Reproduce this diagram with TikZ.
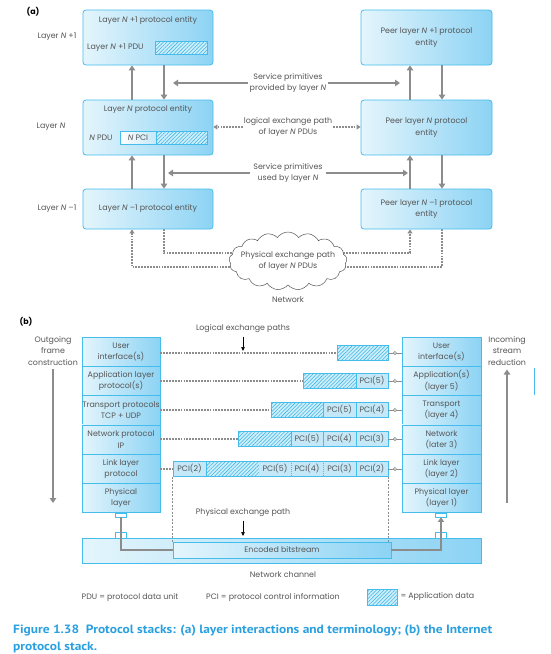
\documentclass[tikz,border=0pt]{standalone}
\usepackage{fontspec}
\setmainfont{Poppins}
\newfontfamily\capfont[FakeStretch=1.12]{PT Sans}
\usetikzlibrary{arrows.meta,shapes.symbols,patterns.meta,backgrounds,calc}
\definecolor{lcyan}{HTML}{E4F5FC}
\definecolor{dcyan}{HTML}{8CD3F4}
\definecolor{bcyan}{HTML}{45BDEC}
\definecolor{pcifill}{HTML}{C4E8F8}
\definecolor{hatchbg}{HTML}{CDEEFB}
\definecolor{hatchcol}{HTML}{3CB4E6}
\definecolor{arrgray}{HTML}{8C8C8C}
\definecolor{txtgray}{HTML}{555555}
\definecolor{capblue}{HTML}{2AA0E0}
\newcommand{\tf}{\fontsize{7.9}{11.3}\selectfont}
\begin{document}
\begin{tikzpicture}[x=1pt,y=-1pt,font=\tf,text=txtgray,
  ent/.style={draw=bcyan,line width=0.8pt,rounded corners=3pt,left color=lcyan,right color=dcyan,align=center,inner sep=0pt},
  cell/.style={draw=bcyan,line width=0.7pt,left color=lcyan,right color=dcyan,align=center,inner sep=0pt,minimum width=78,minimum height=29.3},
  hatch/.style={draw=bcyan,line width=0.6pt,preaction={fill=hatchbg},pattern={Lines[angle=45,distance=2.6pt,line width=0.55pt]},pattern color=hatchcol,inner sep=0pt,minimum height=13},
  pci/.style={draw=bcyan,line width=0.6pt,fill=pcifill,inner sep=0pt,minimum height=15},
  pcin/.style={fill=pcifill,inner sep=0pt,minimum height=15},
  lbl/.style={align=center,inner sep=3pt},
  garr/.style={draw=arrgray,line width=2.4pt,-{Triangle[length=5pt,width=6.5pt]}},
  gline/.style={draw=arrgray,line width=2pt},
  darr/.style={draw=arrgray,line width=2pt,dash pattern=on 1.8pt off 1.1pt,-{Triangle[length=4pt,width=5pt]}},
  dline/.style={draw=arrgray,line width=2pt,dash pattern=on 1.8pt off 1.1pt},
  tarr/.style={draw=black,line width=0.6pt,-{Triangle[length=4pt,width=3.5pt]}},
  tdash/.style={draw=arrgray,line width=0.5pt,dash pattern=on 2pt off 1.5pt},
  sapl/.style={draw=arrgray,line width=1pt},
  sapc/.style={circle,draw=arrgray,fill=white,line width=0.6pt,inner sep=0pt,minimum size=3.2pt},
  tab/.style={draw=bcyan,fill=white,line width=0.6pt,inner sep=0pt,minimum width=11}]
\begin{scope}[on background layer]
\fill[white] (0,0) rectangle (551,654);
\end{scope}
\useasboundingbox (0,0) rectangle (551,654);

% ---------------- (a) ----------------
\node[font=\tf\bfseries,text=black] (la) at (33,12) {(a)};
\node (lN1) at (57,37) {Layer \textit{N} +1};
\node (lN) at (51,127) {Layer \textit{N}};
\node (lNm) at (57,209) {Layer \textit{N} –1};

\node[ent,minimum width=130,minimum height=55] (nA) at (148,37.5) {};
\node (tA) at (148,21) {Layer \textit{N} +1 protocol entity};
\node[anchor=west,inner sep=0pt] (tApdu) at (87,48) {Layer \textit{N} +1 PDU};
\node[hatch,minimum width=52] (hA) at (181,47.5) {};

\node[ent,minimum width=130,minimum height=55] (nB) at (148,127.5) {};
\node (tB) at (148,110) {Layer \textit{N} protocol entity};
\node (tBpdu) at (101,137.5) {\textit{N} PDU};
\node[draw=bcyan,line width=0.6pt,left color=white,right color=pcifill,inner sep=0pt,minimum width=36,minimum height=13] (pB) at (138,137.5) {\textit{N} PCI};
\node[hatch,minimum width=51] (hB) at (181.5,137.5) {};

\node[ent,minimum width=130,minimum height=40] (nC) at (148,209) {Layer \textit{N} –1 protocol entity};

\node[ent,minimum width=131,minimum height=55] (pA) at (426.5,37.5) {Peer layer \textit{N} +1 protocol\\entity};
\node[ent,minimum width=131,minimum height=55] (pBn) at (426.5,127.5) {Peer layer \textit{N} protocol\\entity};
\node[ent,minimum width=131,minimum height=40] (pC) at (426.5,209) {Peer layer \textit{N} –1 protocol\\entity};

% vertical service arrows
\draw[garr] ([xshift=-16pt]nB.north) -- ([xshift=-16pt]nA.south);
\draw[garr] ([xshift=16pt]nA.south) -- ([xshift=16pt]nB.north);
\draw[garr] ([xshift=-16pt]nC.north) -- ([xshift=-16pt]nB.south);
\draw[garr] ([xshift=16pt]nB.south) -- ([xshift=16pt]nC.north);
\draw[garr] ([xshift=-16.5pt]pBn.north) -- ([xshift=-16.5pt]pA.south);
\draw[garr] ([xshift=15.5pt]pA.south) -- ([xshift=15.5pt]pBn.north);
\draw[garr] ([xshift=-16.5pt]pC.north) -- ([xshift=-16.5pt]pBn.south);
\draw[garr] ([xshift=15.5pt]pBn.south) -- ([xshift=15.5pt]pC.north);

% service primitives
\node[lbl,inner sep=2pt] (sp1) at (288,83) {Service primitives\\provided by layer \textit{N}};
\coordinate (sp1l) at (173,83);
\coordinate (sp1r) at (400,83);
\draw[garr] (sp1.west) -- (sp1l);
\draw[garr] (sp1.east) -- (sp1r);

\node[lbl] (sp2) at (288,173) {Service primitives\\used by layer \textit{N}};
\coordinate (sp2l) at (168,173);
\coordinate (sp2r) at (408,173);
\draw[garr] (sp2.west) -- (sp2l);
\draw[garr] (sp2.east) -- (sp2r);

% logical exchange path
\node[lbl,inner sep=1pt] (lx) at (288,127) {logical exchange path\\of layer \textit{N} PDUs};
\draw[darr] (lx.west) -- (lx.west -| nB.east);
\draw[darr] (lx.east) -- (lx.east -| pBn.west);

% cloud
\node[cloud,cloud puffs=17,cloud puff arc=110,draw=txtgray,fill=white,line width=0.5pt,minimum width=118,minimum height=58,inner sep=0pt] (cl) at (288,261) {};
\node[align=center,inner sep=0pt] (clt) at (cl.center) {Physical exchange path\\of layer \textit{N} PDUs};
\node (net) at (288,300) {Network};
\coordinate (ya) at (0,253);
\coordinate (yb) at (0,267);
\begin{scope}[on background layer]
\draw[dline] ([xshift=16pt]nC.south) |- (cl.center |- ya);
\draw[darr] (cl.center |- ya) -| ([xshift=-16.5pt]pC.south);
\draw[dline] ([xshift=15.5pt]pC.south) |- (cl.center |- yb);
\draw[darr] (cl.center |- yb) -| ([xshift=-16pt]nC.south);
\end{scope}

% ---------------- (b) ----------------
\node[font=\tf\bfseries,text=black] (lb) at (26,322) {(b)};
\node[lbl,inner sep=1pt] (og) at (53,351) {Outgoing\\frame\\construction};
\coordinate (ogend) at (53,503);
\draw[garr] ([yshift=-2pt]og.south) -- (ogend);
\node[lbl,inner sep=1pt] (ic) at (507,351) {Incoming\\stream\\reduction};
\coordinate (icend) at (507,503);
\draw[garr] (icend) -- ([yshift=-3pt]ic.south);
\draw[bcyan,line width=1pt] (534,368) -- (534,395);

% left stack
\node[cell] (ls1) at (121,351.65) {User\\interface(s)};
\node[cell] (ls2) at (121,380.95) {Application layer\\protocol(s)};
\node[cell] (ls3) at (121,410.25) {Transport protocols\\TCP + UDP};
\node[cell] (ls4) at (121,439.55) {Network protocol\\IP};
\node[cell] (ls5) at (121,468.85) {Link layer\\protocol};
\node[cell] (ls6) at (121,498.15) {Physical\\layer};
% right stack
\node[cell,minimum width=79] (rs1) at (441.5,351.65) {User\\interface(s)};
\node[cell,minimum width=79] (rs2) at (441.5,380.95) {Application(s)\\(layer 5)};
\node[cell,minimum width=79] (rs3) at (441.5,410.25) {Transport\\(layer 4)};
\node[cell,minimum width=79] (rs4) at (441.5,439.55) {Network\\(later 3)};
\node[cell,minimum width=79] (rs5) at (441.5,468.85) {Link layer\\(layer 2)};
\node[cell,minimum width=79] (rs6) at (441.5,498.15) {Physical layer\\(layer 1)};

% logical exchange paths label
\node (lep) at (243,329) {Logical exchange paths};
\coordinate (lepend) at (243,351);
\draw[tarr] (lep.south) -- (lepend);

% PDU rows
\node[hatch,minimum width=51,minimum height=15] (r1a) at (362.5,353) {};

\node[hatch,minimum width=53,minimum height=15] (r2a) at (329.5,381) {};
\node[pci,minimum width=32] (r2b) at (372,381) {PCI(5)};

\node[hatch,minimum width=52,minimum height=15] (r3a) at (297,410) {};
\node[pci,minimum width=33] (r3b) at (339.5,410) {PCI(5)};
\node[pci,minimum width=32] (r3c) at (372,410) {PCI(4)};

\node[hatch,minimum width=53,minimum height=15] (r4a) at (264.5,439) {};
\node[pci,minimum width=32] (r4b) at (307,439) {PCI(5)};
\node[pci,minimum width=33] (r4c) at (339.5,439) {PCI(4)};
\node[pci,minimum width=32] (r4d) at (372,439) {PCI(3)};

\node[pci,minimum width=33] (r5a) at (189.5,469) {PCI(2)};
\node[hatch,minimum width=53,minimum height=15] (r5b) at (232.5,469) {};
\node[pcin,minimum width=32] (r5c) at (275,469) {PCI(5)};
\node[pcin,minimum width=32] (r5d) at (307,469) {PCI(4)};
\node[pcin,minimum width=33] (r5e) at (339.5,469) {PCI(3)};
\node[pci,minimum width=32] (r5f) at (372,469) {PCI(2)};
\draw[bcyan,line width=0.6pt] (r5c.north west) -- (r5e.north east);
\draw[bcyan,line width=0.6pt] (r5c.south west) -- (r5e.south east);
\draw[bcyan,line width=0.6pt,dash pattern=on 1pt off 1pt] (r5c.north east) -- (r5c.south east);
\draw[bcyan,line width=0.6pt,dash pattern=on 1pt off 1pt] (r5d.north east) -- (r5d.south east);

% dotted logical lines
\draw[dline] (ls1.east |- r1a.west) -- (r1a.west);
\draw[dline] (ls2.east |- r2a.west) -- (r2a.west);
\draw[dline] (ls3.east |- r3a.west) -- (r3a.west);
\draw[dline] (ls4.east |- r4a.west) -- (r4a.west);
\draw[dline] (ls5.east |- r5a.west) -- (r5a.west);

% service access points
\draw[sapl] (r1a.east) -- node[sapc]{} (r1a.east -| rs1.west);
\draw[sapl] (r2b.east) -- node[sapc]{} (r2b.east -| rs2.west);
\draw[sapl] (r3c.east) -- node[sapc]{} (r3c.east -| rs3.west);
\draw[sapl] (r4d.east) -- node[sapc]{} (r4d.east -| rs4.west);
\draw[sapl] (r5f.east) -- node[sapc]{} (r5f.east -| rs5.west);

% network channel
\node[draw=bcyan,line width=0.7pt,left color=lcyan,right color=dcyan,minimum width=399,minimum height=25,inner sep=0pt] (ch) at (281.5,550.5) {};
\node[tab,minimum height=4] (tl1) at (120.5,515) {};
\node[tab,minimum height=6] (tl2) at (120.5,535) {};
\node[tab,minimum height=4] (tr1) at (441,515) {};
\node[tab,minimum height=6] (tr2) at (441,535) {};
\node[draw=bcyan,line width=0.7pt,left color=lcyan,right color=dcyan,minimum width=218,minimum height=16,inner sep=0pt] (enc) at (282,550) {Encoded bitstream};
\draw[gline] (tl1.south) |- (enc.west);
\draw[gline,-{Triangle[length=4.5pt,width=6pt]}] (enc.east) -| (tr1.south);

\draw[tdash] (r5a.south west) -- (r5a.south west |- enc.north);
\draw[tdash] (r5f.south east) -- (r5f.south east |- enc.north);

\node (pep) at (243,513) {Physical exchange path};
\coordinate (pepend) at (243,536);
\draw[tarr] (pep.south) -- (pepend);

\node (nc) at (283,575) {Network channel};

% legend
\node (lg1) at (130,598) {PDU = protocol data unit};
\node (lg2) at (273,598) {PCI = protocol control information};
\node[hatch,minimum width=30,minimum height=16] (lg3) at (382,597) {};
\node[anchor=west,inner sep=0pt] (lg4) at ([xshift=3pt]lg3.east) {= Application data};

% caption
\node[anchor=west,inner sep=0pt,font=\capfont\bfseries\fontsize{12}{14}\selectfont,text=capblue] (cap1) at (13,631) {Figure 1.38\ \ Protocol stacks: (a) layer interactions and terminology; (b) the Internet};
\node[anchor=west,inner sep=0pt,font=\capfont\bfseries\fontsize{12}{14}\selectfont,text=capblue] (cap2) at (13,647) {protocol stack.};
\end{tikzpicture}
\end{document}
